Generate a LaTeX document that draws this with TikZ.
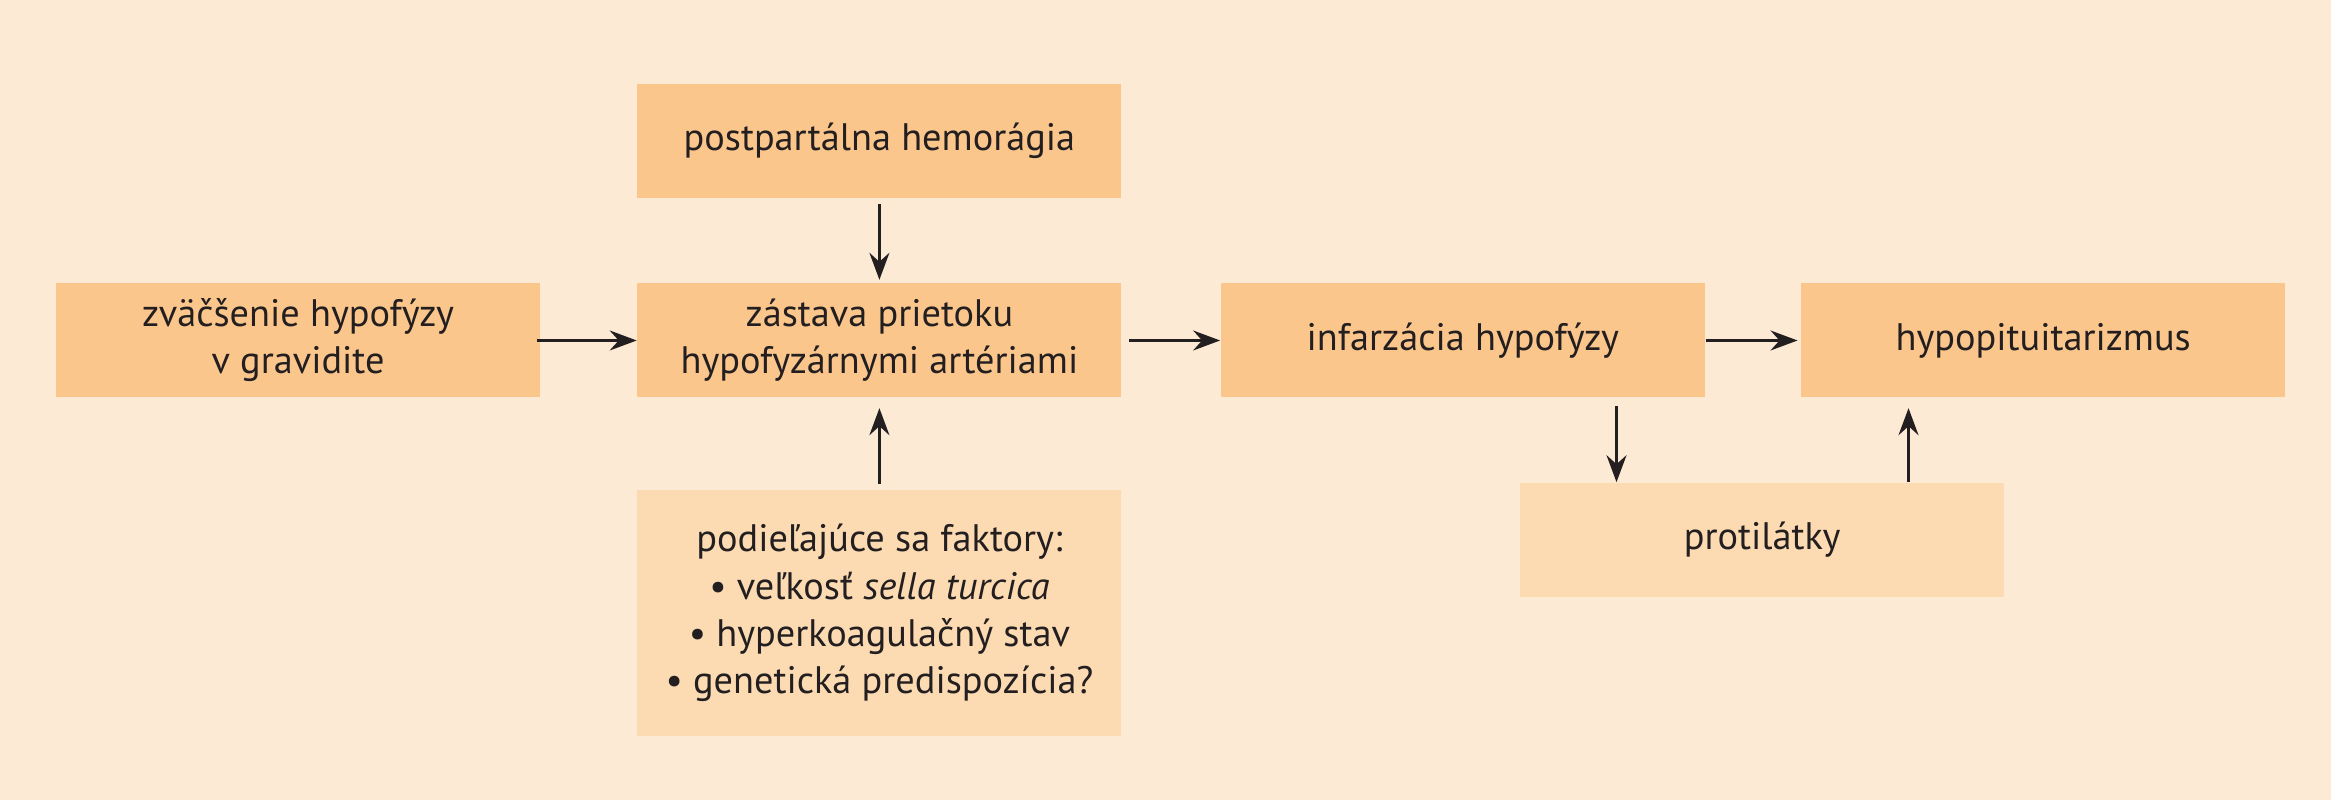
\documentclass[tikz,border=0pt]{standalone}
\usepackage{fontspec}
\setmainfont{PT Sans}
\usepackage{tikz}
\usetikzlibrary{
	positioning,
	arrows.meta
}

\definecolor{bgpeach}{RGB}{253,234,212}
\definecolor{boxdark}{RGB}{251,198,140}
\definecolor{boxlight}{RGB}{252,218,178}
\definecolor{txt}{RGB}{35,31,32}

\tikzset{
	box/.style={fill=boxdark,minimum width=4.84cm,minimum height=1.14cm,
		inner sep=0pt,align=center,text=txt,
		font=\fontsize{10.9}{13.4}\selectfont},
	lightbox/.style={box,fill=boxlight},
	arr/.style={-{Stealth[length=0.27cm,width=0.2cm,inset=0.09cm]},
		line width=0.7pt,draw=txt}
}

\begin{document}
\begin{tikzpicture}
		\fill[bgpeach] (0,0) rectangle (23.31,8);
		\useasboundingbox (0,0) rectangle (23.31,8);

		\draw
			node[box] at (2.98,4.595)                  (zv)   {zväčšenie hypofýzy\\v gravidite}
			node[box,right=0.96cm of zv]               (zas)  {zástava prietoku\\hypofyzárnymi artériami}
			node[box,right=0.98cm of zas]              (inf)  {infarzácia hypofýzy}
			node[box,right=0.95cm of inf]              (hyp)  {hypopituitarizmus}
			node[box,above=0.84cm of zas]              (post) {postpartálna hemorágia}
			node[lightbox,below=0.91cm of zas,minimum height=2.46cm] (pod)
				{podieľajúce sa faktory:\\
				 • veľkosť \textit{sella turcica}\\
				 • hyperkoagulačný stav\\
				 • genetická predispozícia?}
			node[lightbox,below right=0.84cm and -1.86cm of inf] (prot) {protilátky}
		;

		\draw[arr,shorten <=-0.04cm] (zv)  -- (zas);
		\draw[arr,shorten <=0.07cm]  (zas) -- (inf);
		\draw[arr,shorten >=0.03cm]  (inf) -- (hyp);
		\draw[arr,shorten <=0.05cm,shorten >=0.03cm] (post) -- (zas);
		\draw[arr,shorten <=0.05cm,shorten >=0.1cm]  (pod)  -- (zas);
		\draw[arr,shorten <=0.08cm] ([xshift=-0.89cm]inf.south east) -- ([xshift=-0.89cm]inf.south east |- prot.north);
		\draw[arr,shorten >=0.1cm]  ([xshift=1.08cm]hyp.south west |- prot.north) -- ([xshift=1.08cm]hyp.south west);
    \end{tikzpicture}
\end{document}
